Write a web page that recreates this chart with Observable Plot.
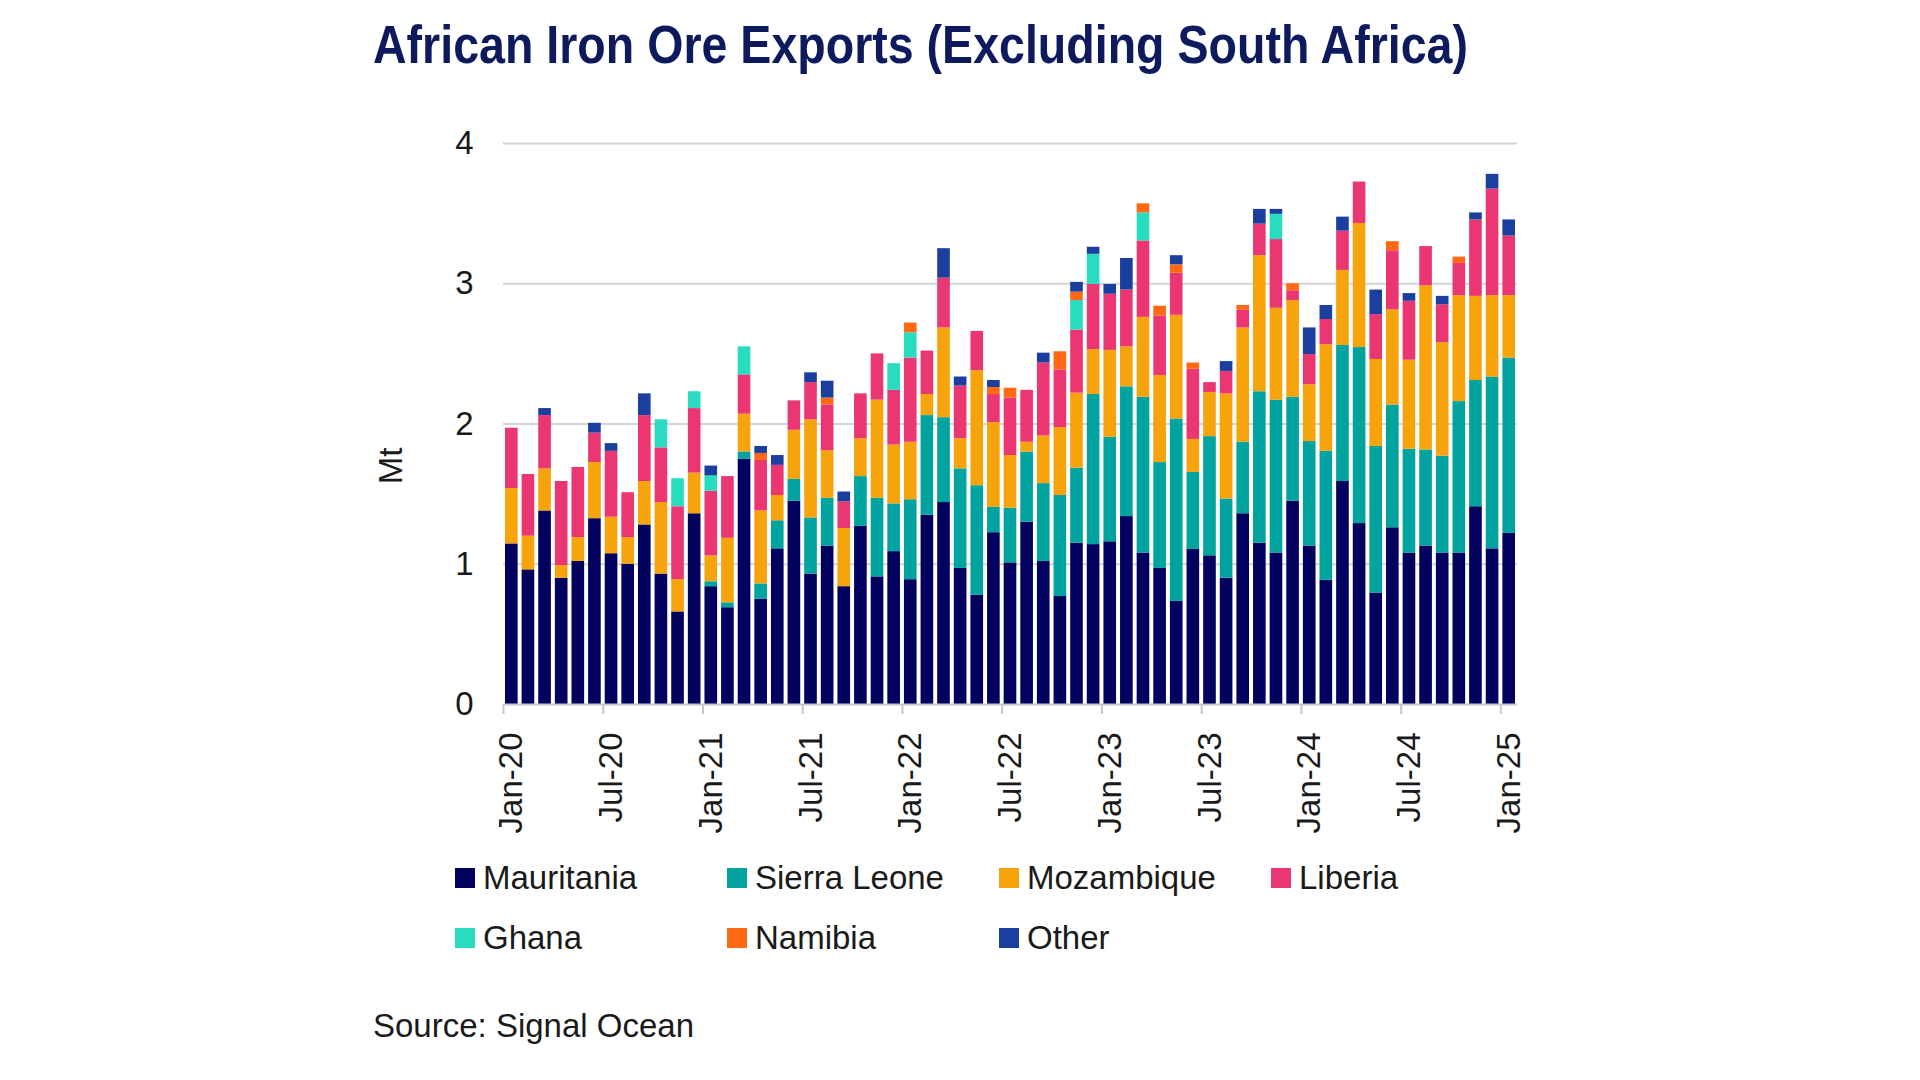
<!DOCTYPE html>
<html>
<head>
<meta charset="utf-8">
<script src="https://cdn.jsdelivr.net/npm/d3@7"></script>
<script src="https://cdn.jsdelivr.net/npm/@observablehq/plot@0.6"></script>
<style>
  html, body { margin: 0; padding: 0; background: #ffffff; }
  body { width: 1920px; height: 1080px; position: relative; overflow: hidden; font-family: "Liberation Sans", Arial, sans-serif; color: #1a1a1a; }
  #title { position: absolute; left: 373px; top: 12px; font-family: "Liberation Sans Narrow", "Liberation Sans", Arial, sans-serif; font-weight: 700; font-size: 53px; color: #0d1b5e; white-space: nowrap; line-height: 66px; transform-origin: 0 50%; }
  #chart { position: absolute; left: 0; top: 100px; }
  #ylabel { position: absolute; left: 391px; top: 466px; transform: translate(-50%, -50%) rotate(-90deg); font-size: 33px; white-space: nowrap; }
  #legend { position: absolute; left: 455px; top: 858px; display: grid; grid-template-columns: repeat(4, 272px); row-gap: 20px; }
  .item { display: flex; align-items: center; font-size: 33px; height: 40px; white-space: nowrap; }
  .sw { width: 20px; height: 20px; margin-right: 8px; flex: none; }
  #source { position: absolute; left: 373px; top: 1005px; font-size: 33px; line-height: 42px; white-space: nowrap; }
</style>
</head>
<body>
<div id="title">African Iron Ore Exports (Excluding South Africa)</div>
<div id="chart"></div>
<div id="ylabel">Mt</div>
<div id="legend"></div>
<div id="source">Source: Signal Ocean</div>
<script>
const months = [
  "Jan-20","Feb-20","Mar-20","Apr-20","May-20","Jun-20","Jul-20","Aug-20","Sep-20","Oct-20","Nov-20","Dec-20",
  "Jan-21","Feb-21","Mar-21","Apr-21","May-21","Jun-21","Jul-21","Aug-21","Sep-21","Oct-21","Nov-21","Dec-21",
  "Jan-22","Feb-22","Mar-22","Apr-22","May-22","Jun-22","Jul-22","Aug-22","Sep-22","Oct-22","Nov-22","Dec-22",
  "Jan-23","Feb-23","Mar-23","Apr-23","May-23","Jun-23","Jul-23","Aug-23","Sep-23","Oct-23","Nov-23","Dec-23",
  "Jan-24","Feb-24","Mar-24","Apr-24","May-24","Jun-24","Jul-24","Aug-24","Sep-24","Oct-24","Nov-24","Dec-24",
  "Jan-25"
];
const tickLabels = ["Jan-20","Jul-20","Jan-21","Jul-21","Jan-22","Jul-22","Jan-23","Jul-23","Jan-24","Jul-24","Jan-25"];
const yTicks = [0, 1, 2, 3, 4];

const countries = ["Mauritania","Sierra Leone","Mozambique","Liberia","Ghana","Namibia","Other"];
const colors = ["#02025e","#00a39d","#f6a30c","#eb3771","#2adcbf","#ff6914","#1a3f9e"];

const mauritania = [
  1.145,0.96,1.38,0.90,1.02,1.325,1.075,1.0,1.28,0.93,0.66,1.36,
  0.84,0.69,1.75,0.75,1.11,1.45,0.93,1.13,0.84,1.27,0.91,1.09,
  0.89,1.35,1.44,0.97,0.78,1.225,1.01,1.30,1.02,0.77,1.15,1.14,
  1.16,1.34,1.08,0.97,0.735,1.105,1.06,0.90,1.36,1.15,1.08,1.45,
  1.13,0.885,1.59,1.29,0.795,1.26,1.08,1.13,1.08,1.08,1.41,1.11,
  1.22
];
const sierraLeone = [
  0,0,0,0,0,0,0,0,0,0,0,0,
  0.035,0.035,0.05,0.11,0.20,0.155,0.40,0.34,0,0.355,0.56,0.34,
  0.57,0.71,0.605,0.71,0.78,0.18,0.39,0.50,0.555,0.72,0.535,1.07,
  0.745,0.925,1.11,0.755,1.30,0.55,0.85,0.565,0.51,1.08,1.09,0.74,
  0.745,0.92,0.97,1.255,1.045,0.875,0.74,0.685,0.69,1.08,0.90,1.225,
  1.25
];
const mozambique = [
  0.395,0.24,0.30,0.09,0.17,0.40,0.26,0.19,0.31,0.51,0.23,0.29,
  0.185,0.46,0.27,0.52,0.18,0.35,0.70,0.34,0.415,0.27,0.70,0.42,
  0.41,0.15,0.64,0.215,0.82,0.605,0.375,0.07,0.34,0.485,0.535,0.32,
  0.62,0.285,0.57,0.62,0.74,0.235,0.315,0.75,0.815,0.97,0.655,0.69,
  0.405,0.76,0.535,0.885,0.62,0.68,0.635,1.17,0.81,0.755,0.60,0.58,
  0.445
];
const liberia = [
  0.43,0.44,0.38,0.60,0.50,0.21,0.47,0.32,0.47,0.39,0.52,0.46,
  0.46,0.44,0.28,0.36,0.215,0.21,0.265,0.325,0.19,0.32,0.33,0.39,
  0.60,0.31,0.355,0.375,0.28,0.20,0.41,0.37,0.52,0.41,0.45,0.465,
  0.40,0.405,0.545,0.425,0.30,0.50,0.07,0.16,0.125,0.225,0.49,0.07,
  0.215,0.18,0.28,0.295,0.32,0.42,0.42,0.28,0.27,0.23,0.545,0.76,
  0.425
];
const ghana = [
  0,0,0,0,0,0,0,0,0,0.20,0.20,0.12,
  0.11,0,0.20,0,0,0,0,0,0,0,0,0.19,
  0.18,0,0,0,0,0,0,0,0,0,0.21,0.215,
  0,0,0.20,0,0,0,0,0,0,0,0.18,0,
  0,0,0,0,0,0,0,0,0,0,0,0,
  0
];
const namibia = [
  0,0,0,0,0,0,0,0,0,0,0,0,
  0,0,0,0.05,0,0,0,0.05,0,0,0,0,
  0.07,0,0,0,0,0.05,0.07,0,0,0.13,0.06,0,
  0,0,0.065,0.07,0.06,0.045,0,0,0.035,0,0,0.05,
  0,0,0,0,0,0.065,0,0,0,0.045,0,0,
  0
];
const other = [
  0,0,0.05,0,0,0.07,0.055,0,0.155,0,0,0,
  0.07,0,0,0.05,0.07,0,0.07,0.12,0.07,0,0,0,
  0,0,0.21,0.065,0,0.05,0,0,0.07,0,0.07,0.05,
  0.07,0.225,0,0,0.065,0,0,0.07,0,0.105,0.035,0,
  0.19,0.10,0.10,0,0.175,0,0.055,0,0.06,0,0.05,0.105,
  0.115
];

const seriesList = [mauritania, sierraLeone, mozambique, liberia, ghana, namibia, other];
const data = [];
months.forEach((m, i) => {
  countries.forEach((c, k) => {
    data.push({month: m, country: c, value: seriesList[k][i]});
  });
});

const W = 1920, H = 750;
const mL = 503, mR = 403, mT = 43, mB = 146;
const step = (W - mL - mR) / months.length;

const chart = Plot.plot({
  width: W,
  height: H,
  marginLeft: mL,
  marginRight: mR,
  marginTop: mT,
  marginBottom: mB,
  style: {fontFamily: "'Liberation Sans', Arial, sans-serif", fontSize: "33px", color: "#1a1a1a", background: "#ffffff"},
  x: {domain: months, paddingInner: 0.24, paddingOuter: 0.12},
  y: {domain: [0, 4]},
  color: {domain: countries, range: colors},
  marks: [
    Plot.gridY([1, 2, 3, 4], {stroke: "#d4d4d4", strokeOpacity: 1, strokeWidth: 2}),
    Plot.axisY(yTicks, {tickSize: 0, tickPadding: 30, label: null, fontSize: 33, tickFormat: d => String(d)}),
    Plot.barY(data, {x: "month", y: "value", fill: "country", order: countries}),
    Plot.ruleY([0], {stroke: "#c8c8c8", strokeWidth: 2}),
    Plot.axisX(tickLabels, {tickSize: 10, tickFormat: () => "", dx: -step / 2, stroke: "#c8c8c8", strokeWidth: 2, label: null}),
    Plot.axisX(tickLabels, {tickSize: 0, tickPadding: 28, tickRotate: -90, label: null, fontSize: 33})
  ]
});
document.getElementById("chart").appendChild(chart);

const legend = document.getElementById("legend");
countries.forEach((c, k) => {
  const it = document.createElement("div");
  it.className = "item";
  const sw = document.createElement("span");
  sw.className = "sw";
  sw.style.background = colors[k];
  it.appendChild(sw);
  it.appendChild(document.createTextNode(c));
  legend.appendChild(it);
});

// fit the title to the reference width (condensed look)
const title = document.getElementById("title");
const targetW = 1095;
const w = title.getBoundingClientRect().width;
if (w > targetW) title.style.transform = `scaleX(${targetW / w})`;
</script>
</body>
</html>
